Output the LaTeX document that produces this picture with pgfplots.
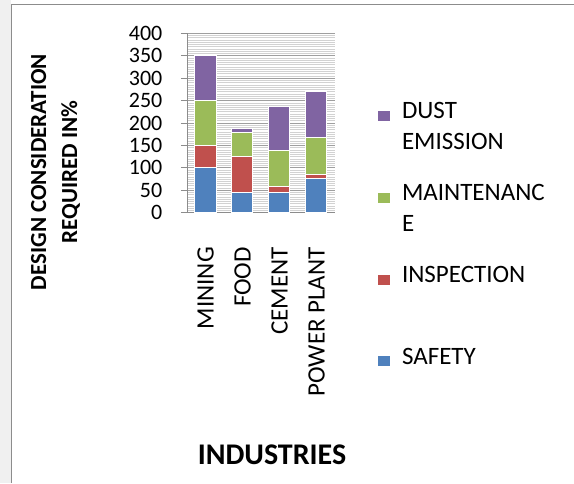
\documentclass[border=0pt]{standalone}
\usepackage{pgfplots}
\pgfplotsset{compat=1.18}
\usepackage{fontspec}
\setmainfont{Carlito}
\definecolor{cSafety}{HTML}{4F81BD}
\definecolor{cInsp}{HTML}{C0504D}
\definecolor{cMaint}{HTML}{9BBB59}
\definecolor{cDust}{HTML}{8064A2}
\definecolor{frameg}{HTML}{8C8C8C}
\begin{document}
\begin{tikzpicture}[x=1pt,y=1pt]
\useasboundingbox (0,0) rectangle (574,483);
\fill[black!6] (0,0) rectangle (11,483);
\draw[frameg, line width=1.5pt] (11.5,0) -- (11.5,478.5) -- (574,478.5);
\begin{axis}[
  at={(187pt,270.3pt)}, anchor=south west,
  scale only axis, width=148pt, height=179.4pt,
  ybar stacked, bar width=21pt,
  xmin=-0.5, xmax=3.5, ymin=0, ymax=400,
  xtick={0,1,2,3}, xticklabels={MINING,FOOD,CEMENT,POWER PLANT},
  x tick label style={rotate=90, anchor=east, font=\fontsize{25}{30}\selectfont},
  xticklabel shift=25pt,
  ytick={0,50,...,400},
  y tick label style={font=\fontsize{22}{22}\selectfont, inner sep=0pt},
  yticklabel shift=18.5pt,
  /pgf/number format/assume math mode=true,
  axis x line*=bottom, axis y line*=left,
  axis line style={frameg, line width=1pt, -},
  x tick style={draw=none},
  y tick style={frameg, line width=1pt},
  tick align=outside, major tick length=6pt,
  minor y tick num=9, minor tick length=0pt,
  ymajorgrids, yminorgrids,
  major grid style={gray!75, line width=0.9pt},
  minor grid style={gray!35, line width=0.6pt},
  every axis plot/.append style={draw=white, line width=1pt},
  reverse legend,
  legend style={at={(1.2926,0.6132)}, anchor=north west, draw=none, fill=none,
    inner sep=0pt, outer sep=0pt, row sep=33pt, column sep=12pt,
    font=\fontsize{25}{31}\selectfont, nodes={inner sep=0pt, align=left}},
  legend cell align=left,
  legend image code/.code={\fill[#1, draw=none] (0pt,6pt) rectangle (11.7pt,16pt);},
]
\addplot[fill=cSafety] coordinates {(0,100) (1,45) (2,45) (3,76)};
\addlegendentry{SAFETY\\\mbox{}}
\addplot[fill=cInsp] coordinates {(0,50) (1,81) (2,14) (3,10)};
\addlegendentry{INSPECTION\\\mbox{}}
\addplot[fill=cMaint] coordinates {(0,100) (1,53) (2,79) (3,82)};
\addlegendentry{MAINTENANC\\E}
\addplot[fill=cDust] coordinates {(0,100) (1,9) (2,99) (3,102)};
\addlegendentry{DUST\\EMISSION}
\end{axis}
\node[rotate=90, align=center, font=\bfseries\fontsize{23}{31}\selectfont] at (55.5,311) {DESIGN CONSIDERATION\\REQUIRED IN\%};
\node[anchor=base, font=\bfseries\fontsize{30}{36}\selectfont] at (272,18.2) {INDUSTRIES};
\end{tikzpicture}
\end{document}
